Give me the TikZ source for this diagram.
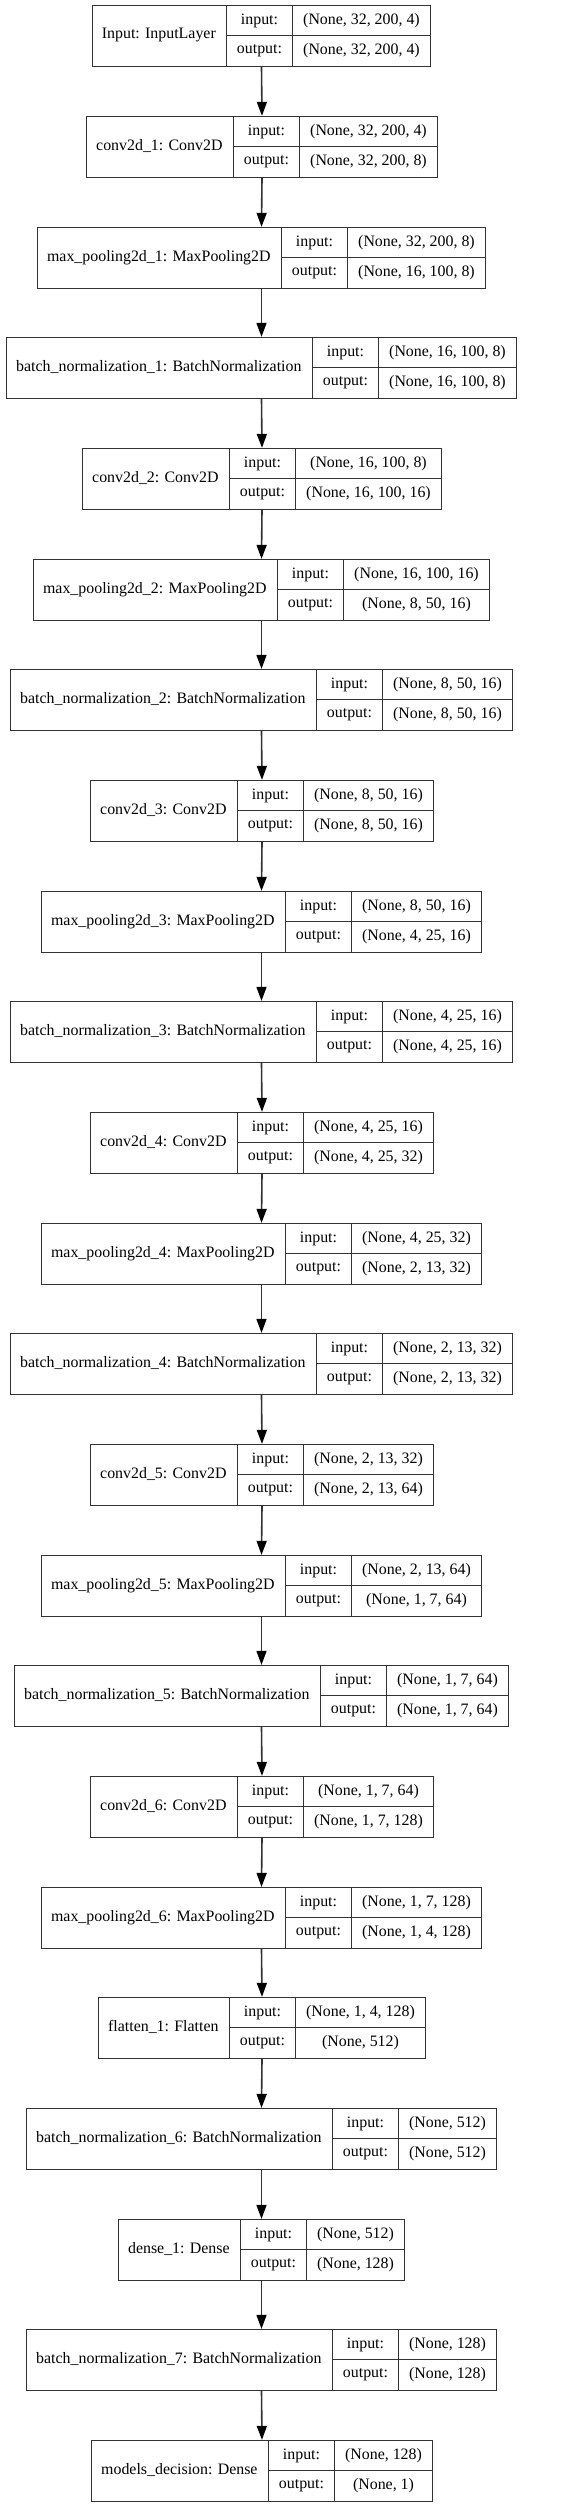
\documentclass[tikz,border=0pt]{standalone}
\usepackage{fontspec}
\setmainfont{Liberation Serif}
\usetikzlibrary{arrows.meta}
\newlength\lwa
\newlength\lwb
\newlength\lwc
\newlength\lwt
\font\kmeasurefont="Liberation Serif" at 15.9pt
\newcommand\kfont{\fontsize{15.9}{19}\selectfont}
\tikzset{
  frame/.style={draw=black!80, line width=1.3pt, inner sep=0pt, minimum height=61pt},
  cell/.style={draw=black!80, line width=1.3pt, inner sep=0pt, font=\kfont},
  lbl/.style={inner sep=0pt, font=\kfont},
  flow/.style={draw=black!80, line width=1.6pt, -{Triangle[length=14pt,width=10pt,color=black]}},
}
\newcommand\klayer[5]{%
  \settowidth\lwa{\kmeasurefont #2}%
  \settowidth\lwb{\kmeasurefont output:}%
  \settowidth\lwc{\kmeasurefont #3}\settowidth\lwt{\kmeasurefont #4}%
  \ifdim\lwt>\lwc \lwc=\lwt\fi
  \pgfmathsetmacro\kwa{round(\lwa+20.5)}%
  \pgfmathsetmacro\kwb{round(\lwb+20.5)}%
  \pgfmathsetmacro\kwc{round(\lwc+21)}%
  \pgfmathsetmacro\kwt{\kwa+\kwb+\kwc}%
  \pgfmathsetmacro\ktop{round(5.3+#5*110.67)-0.15}%
  \pgfmathsetmacro\kmid{\ktop+30}%
  \pgfmathsetmacro\kcy{\ktop+30.5}%
  \pgfmathsetmacro\kxl{round(261-0.5*\kwt)-0.15}%
  \pgfmathsetmacro\kxn{\kxl+0.5*\kwa}%
  \pgfmathsetmacro\kxb{\kxl+\kwa}%
  \pgfmathsetmacro\kxc{\kxb+\kwb}%
  \node[frame, minimum width=\kwt pt, anchor=north west] (#1) at (\kxl,\ktop) {};
  \node[lbl] (#1-name) at (\kxn,\kcy) {#2};
  \node[cell, minimum width=\kwb pt, minimum height=30pt, anchor=north west] (#1-ki) at (\kxb,\ktop) {input:};
  \node[cell, minimum width=\kwb pt, minimum height=31pt, anchor=north west] (#1-ko) at (\kxb,\kmid) {output:};
  \node[cell, minimum width=\kwc pt, minimum height=30pt, anchor=north west] (#1-vi) at (\kxc,\ktop) {#3};
  \node[cell, minimum width=\kwc pt, minimum height=31pt, anchor=north west] (#1-vo) at (\kxc,\kmid) {#4};
}
\begin{document}
\begin{tikzpicture}[x=1pt, y=-1pt]
\useasboundingbox (0,0) rectangle (588,2508);
\klayer{L0}{Input: InputLayer}{(None, 32, 200, 4)}{(None, 32, 200, 4)}{0}
\klayer{L1}{conv2d\_1: Conv2D}{(None, 32, 200, 4)}{(None, 32, 200, 8)}{1}
\klayer{L2}{max\_pooling2d\_1: MaxPooling2D}{(None, 32, 200, 8)}{(None, 16, 100, 8)}{2}
\klayer{L3}{batch\_normalization\_1: BatchNormalization}{(None, 16, 100, 8)}{(None, 16, 100, 8)}{3}
\klayer{L4}{conv2d\_2: Conv2D}{(None, 16, 100, 8)}{(None, 16, 100, 16)}{4}
\klayer{L5}{max\_pooling2d\_2: MaxPooling2D}{(None, 16, 100, 16)}{(None, 8, 50, 16)}{5}
\klayer{L6}{batch\_normalization\_2: BatchNormalization}{(None, 8, 50, 16)}{(None, 8, 50, 16)}{6}
\klayer{L7}{conv2d\_3: Conv2D}{(None, 8, 50, 16)}{(None, 8, 50, 16)}{7}
\klayer{L8}{max\_pooling2d\_3: MaxPooling2D}{(None, 8, 50, 16)}{(None, 4, 25, 16)}{8}
\klayer{L9}{batch\_normalization\_3: BatchNormalization}{(None, 4, 25, 16)}{(None, 4, 25, 16)}{9}
\klayer{L10}{conv2d\_4: Conv2D}{(None, 4, 25, 16)}{(None, 4, 25, 32)}{10}
\klayer{L11}{max\_pooling2d\_4: MaxPooling2D}{(None, 4, 25, 32)}{(None, 2, 13, 32)}{11}
\klayer{L12}{batch\_normalization\_4: BatchNormalization}{(None, 2, 13, 32)}{(None, 2, 13, 32)}{12}
\klayer{L13}{conv2d\_5: Conv2D}{(None, 2, 13, 32)}{(None, 2, 13, 64)}{13}
\klayer{L14}{max\_pooling2d\_5: MaxPooling2D}{(None, 2, 13, 64)}{(None, 1, 7, 64)}{14}
\klayer{L15}{batch\_normalization\_5: BatchNormalization}{(None, 1, 7, 64)}{(None, 1, 7, 64)}{15}
\klayer{L16}{conv2d\_6: Conv2D}{(None, 1, 7, 64)}{(None, 1, 7, 128)}{16}
\klayer{L17}{max\_pooling2d\_6: MaxPooling2D}{(None, 1, 7, 128)}{(None, 1, 4, 128)}{17}
\klayer{L18}{flatten\_1: Flatten}{(None, 1, 4, 128)}{(None, 512)}{18}
\klayer{L19}{batch\_normalization\_6: BatchNormalization}{(None, 512)}{(None, 512)}{19}
\klayer{L20}{dense\_1: Dense}{(None, 512)}{(None, 128)}{20}
\klayer{L21}{batch\_normalization\_7: BatchNormalization}{(None, 128)}{(None, 128)}{21}
\klayer{L22}{models\_decision: Dense}{(None, 128)}{(None, 1)}{22}
\foreach \i [evaluate=\i as \j using int(\i+1)] in {0,...,21}
  \draw[flow] (L\i.south) -- (L\j.north);
\end{tikzpicture}
\end{document}
